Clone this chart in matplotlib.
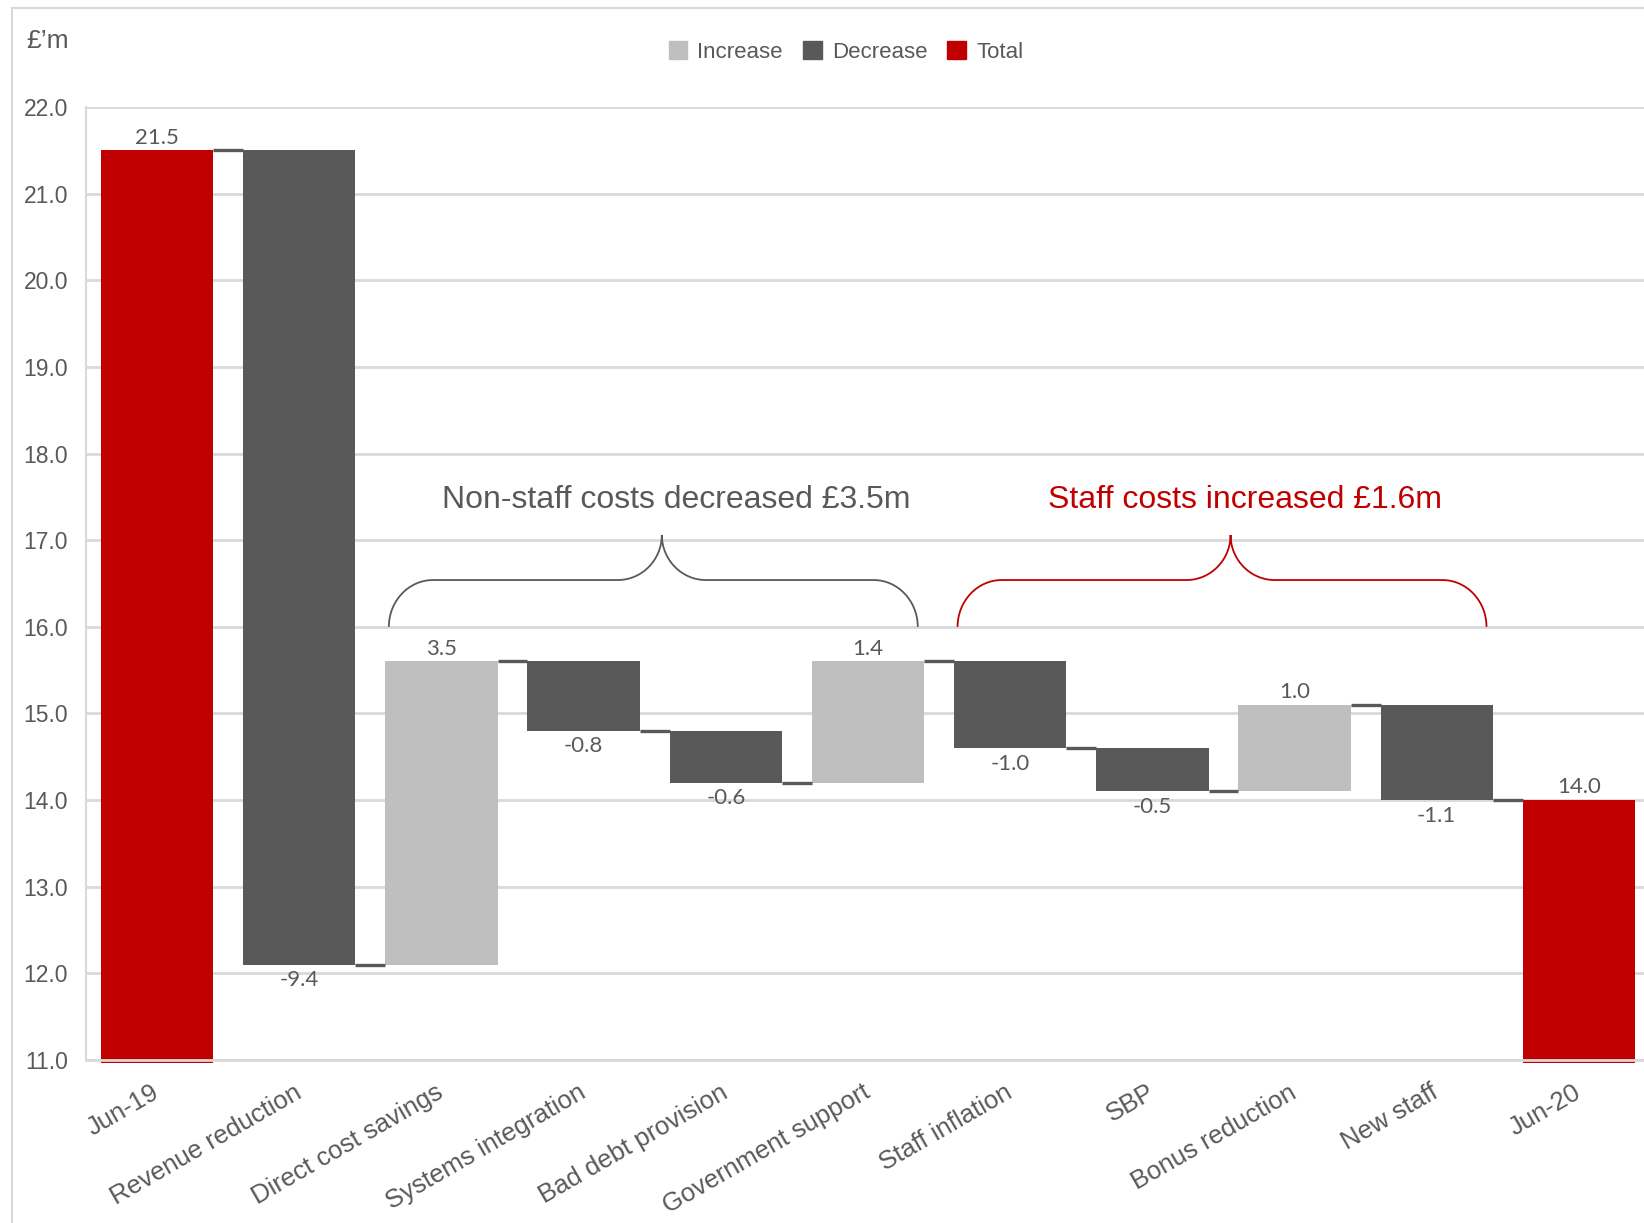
import matplotlib.pyplot as plt
import numpy as np
from matplotlib.patches import Patch, PathPatch, Rectangle
from matplotlib.path import Path

categories = ["Jun-19", "Revenue reduction", "Direct cost savings", "Systems integration",
              "Bad debt provision", "Government support", "Staff inflation", "SBP",
              "Bonus reduction", "New staff", "Jun-20"]
values = [21.5, -9.4, 3.5, -0.8, -0.6, 1.4, -1.0, -0.5, 1.0, -1.1, 14.0]
kinds = ["total", "dec", "inc", "dec", "dec", "inc", "dec", "dec", "inc", "dec", "total"]

brace_groups = [(2, 5), (6, 9)]
brace_texts = ["Non-staff costs decreased £3.5m", "Staff costs increased £1.6m"]

RED = "#C00000"
DARK = "#595959"
LIGHT = "#BFBFBF"
GRID = "#D9D9D9"
colors = {"total": RED, "dec": DARK, "inc": LIGHT}
brace_colors = [DARK, RED]

Y_MIN, Y_MAX = 11.0, 22.0
WIDTH = 0.79

plt.rcParams["font.family"] = ["Liberation Sans", "DejaVu Sans"]

fig = plt.figure(figsize=(16.44, 12.23), dpi=100)
ax = fig.add_axes([86 / 1644, 1 - 1060 / 1223, 1564 / 1644, 953 / 1223])

# outer frame (only top and left edges fall inside the image)
fig.patches.append(Rectangle((12 / 1644, -0.2), 1.1, 1.2 - 8 / 1223,
                             transform=fig.transFigure, fill=False,
                             edgecolor=GRID, linewidth=1.5))

x = np.arange(len(categories))
level = 0.0
bottoms, heights, levels = [], [], []
for v, k in zip(values, kinds):
    if k == "total":
        bottoms.append(Y_MIN - 0.04)
        heights.append(v - (Y_MIN - 0.04))
        level = v
    elif v >= 0:
        bottoms.append(level)
        heights.append(v)
        level += v
    else:
        bottoms.append(level + v)
        heights.append(-v)
        level += v
    levels.append(level)

ax.bar(x, heights, bottom=bottoms, width=WIDTH,
       color=[colors[k] for k in kinds], zorder=2, clip_on=False)

# connectors between bars
for i in range(len(x) - 1):
    ax.plot([x[i] + WIDTH / 2, x[i + 1] - WIDTH / 2], [levels[i], levels[i]],
            color=DARK, lw=2.4, solid_capstyle="butt", zorder=3)

# value labels
for i, (v, k) in enumerate(zip(values, kinds)):
    top = bottoms[i] + heights[i]
    if k == "dec":
        ax.annotate(f"{v:.1f}", (x[i], bottoms[i]), xytext=(0, -4),
                    textcoords="offset points", ha="center", va="top",
                    fontsize=16, color=DARK, family="Lato")
    else:
        ax.annotate(f"{v:.1f}", (x[i], top), xytext=(0, 2),
                    textcoords="offset points", ha="center", va="bottom",
                    fontsize=16, color=DARK, family="Lato")

# curly braces over the cost groups
def brace(x0, x1, y0, y1, y2, rx, shift=0.0):
    xm = (x0 + x1) / 2 + shift
    k = 0.55
    verts = [
        (x0, y0), (x0, y0 + k * (y1 - y0)), (x0 + rx * (1 - k), y1), (x0 + rx, y1),
        (xm - rx, y1),
        (xm - rx + k * rx, y1), (xm, y2 - k * (y2 - y1)), (xm, y2),
        (xm, y2 - k * (y2 - y1)), (xm + rx - k * rx, y1), (xm + rx, y1),
        (x1 - rx, y1),
        (x1 - rx * (1 - k), y1), (x1, y0 + k * (y1 - y0)), (x1, y0),
    ]
    codes = [Path.MOVETO, Path.CURVE4, Path.CURVE4, Path.CURVE4,
             Path.LINETO,
             Path.CURVE4, Path.CURVE4, Path.CURVE4,
             Path.CURVE4, Path.CURVE4, Path.CURVE4,
             Path.LINETO,
             Path.CURVE4, Path.CURVE4, Path.CURVE4]
    return Path(verts, codes), xm

for (a, b), txt, c in zip(brace_groups, brace_texts, brace_colors):
    path, xm = brace(a - 0.37, b + 0.35, 16.0, 16.54, 17.06, 0.31, shift=0.06)
    ax.add_patch(PathPatch(path, facecolor="none", edgecolor=c, lw=1.3, zorder=3))
    ax.text(xm + 0.1, 17.46, txt, ha="center", va="center", fontsize=23, color=c)

ax.set_xlim(-0.5, len(categories) - 0.5)
ax.set_ylim(Y_MIN, Y_MAX)
ax.set_yticks(np.arange(Y_MIN, Y_MAX + 0.5, 1.0))
ax.set_yticklabels([f"{t:.1f}" for t in np.arange(Y_MIN, Y_MAX + 0.5, 1.0)])
ax.set_xticks(x)
ax.set_xticklabels(categories, rotation=30, ha="right", va="center",
                   rotation_mode="anchor")
ax.tick_params(axis="both", length=0, colors=DARK)
ax.tick_params(axis="y", pad=13, labelsize=16.5)
ax.tick_params(axis="x", pad=22, labelsize=18.5)
ax.grid(axis="y", color=GRID, lw=2)
ax.set_axisbelow(True)
for s in ["top", "right"]:
    ax.spines[s].set_visible(False)
ax.spines["left"].set_color(GRID)
ax.spines["left"].set_linewidth(1.5)
ax.spines["bottom"].set_color(GRID)
ax.spines["bottom"].set_linewidth(2)
ax.spines["bottom"].set_zorder(4)

fig.text(26 / 1644, 1 - 41 / 1223, "£’m", fontsize=19, color=DARK, va="center")

handles = [Patch(color=LIGHT, label="Increase"), Patch(color=DARK, label="Decrease"),
           Patch(color=RED, label="Total")]
leg = fig.legend(handles=handles, loc="center", bbox_to_anchor=(846 / 1644, 1 - 52 / 1223),
                 ncol=3, frameon=False, fontsize=16, handlelength=0.85, handleheight=0.85,
                 handletextpad=0.45, columnspacing=0.9)
for t in leg.get_texts():
    t.set_color(DARK)

fig.savefig("out.png", dpi=100)
